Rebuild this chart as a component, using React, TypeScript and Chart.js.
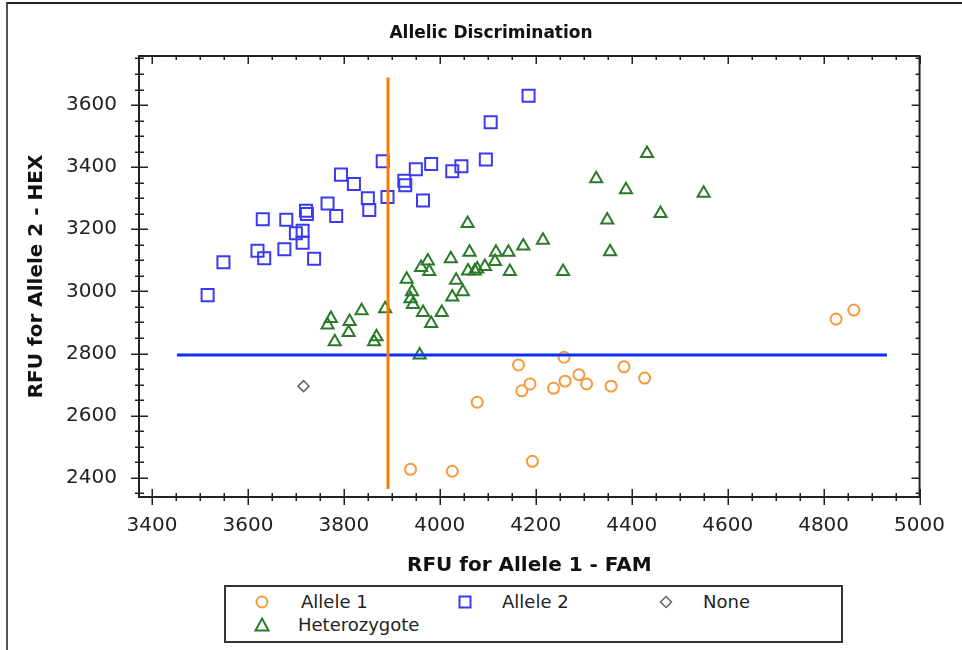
import React, { useEffect, useRef } from 'react';
import { Chart, registerables } from 'chart.js';

Chart.register(...registerables);

// ---- Data ----
const allele1Fam = [4164, 4259, 4188, 4171, 4237, 4261, 4290, 4306, 4357, 4384, 4427, 4078, 3939, 4026, 4193, 4826, 4863];
const allele1Hex = [2763, 2788, 2702, 2680, 2688, 2711, 2732, 2702, 2695, 2757, 2721, 2643, 2427, 2421, 2453, 2911, 2940];

const allele2Fam = [4185, 4106, 3881, 3794, 3821, 3850, 3853, 3891, 3926, 3928, 3950, 3982, 3965, 4026, 4045, 4096, 3766, 3784, 3721, 3723, 3631, 3680, 3700, 3714, 3714, 3620, 3634, 3676, 3738, 3549, 3516];
const allele2Hex = [3630, 3545, 3419, 3376, 3346, 3300, 3262, 3304, 3356, 3342, 3393, 3410, 3293, 3387, 3403, 3425, 3283, 3243, 3260, 3249, 3232, 3231, 3187, 3195, 3157, 3131, 3107, 3136, 3105, 3094, 2988];

const noneFam = [3716];
const noneHex = [2695];

const hetFam = [4432, 4326, 4388, 4550, 4460, 4349, 4058, 4355, 4215, 4174, 4143, 4117, 4062, 4023, 4115, 4094, 4078, 4073, 4059, 4146, 4257, 3975, 3961, 3978, 3931, 4034, 4048, 4026, 3942, 3939, 3944, 3965, 4004, 3982, 3886, 3837, 3773, 3766, 3812, 3810, 3781, 3868, 3863, 3958];
const hetHex = [3444, 3363, 3327, 3316, 3251, 3230, 3219, 3128, 3165, 3146, 3126, 3126, 3126, 3105, 3096, 3080, 3072, 3066, 3066, 3064, 3064, 3098, 3077, 3064, 3039, 3036, 2999, 2982, 2999, 2976, 2958, 2932, 2932, 2897, 2944, 2938, 2913, 2892, 2903, 2868, 2838, 2854, 2838, 2795];

// threshold lines
const famThresholdX = [3892, 3892];
const famThresholdY = [2364, 3689];
const hexThresholdX = [3452, 4932];
const hexThresholdY = [2795, 2795];

const xRange = [3373, 5000];
const yRange = [2338, 3758];
const tickStep = 50;
const labelStep = 200;

const zip = (xs: number[], ys: number[]) => xs.map((x, i) => ({ x, y: ys[i] }));

const makeTicks = (min: number, max: number) => {
  const out: { value: number }[] = [];
  for (let v = Math.ceil(min / tickStep) * tickStep; v <= max; v += tickStep) out.push({ value: v });
  return out;
};

const FONT = "'DejaVu Sans', sans-serif";

const framePlugin = {
  id: 'frameTicks',
  afterDraw(chart: any) {
    const { ctx, chartArea } = chart;
    const { left, right, top, bottom } = chartArea;
    const xs = chart.scales.x;
    const ys = chart.scales.y;
    ctx.save();
    ctx.strokeStyle = '#222';
    ctx.lineWidth = 2;
    ctx.strokeRect(left, top, right - left, bottom - top);
    ctx.lineWidth = 1.5;
    ctx.beginPath();
    xs.ticks.forEach((t: any) => {
      const p = Math.round(xs.getPixelForValue(t.value)) + 0.25;
      const major = t.value % labelStep === 0;
      const l = major ? 8 : 4;
      ctx.moveTo(p, bottom - l);
      ctx.lineTo(p, bottom + l);
      ctx.moveTo(p, top);
      ctx.lineTo(p, top + l);
    });
    ys.ticks.forEach((t: any) => {
      const p = Math.round(ys.getPixelForValue(t.value)) + 0.25;
      const major = t.value % labelStep === 0;
      const l = major ? 8 : 4;
      ctx.moveTo(left - l, p);
      ctx.lineTo(left + l + 1, p);
      ctx.moveTo(right - l, p);
      ctx.lineTo(right, p);
    });
    ctx.stroke();
    ctx.restore();
  },
};

export default function App() {
  const ref = useRef<HTMLCanvasElement | null>(null);

  useEffect(() => {
    if (!ref.current) return;
    const chart = new Chart(ref.current, {
      type: 'scatter',
      data: {
        datasets: [
          {
            label: 'FAM threshold',
            data: zip(famThresholdX, famThresholdY),
            showLine: true,
            borderColor: '#FF7A00',
            borderWidth: 3,
            pointRadius: 0,
          },
          {
            label: 'HEX threshold',
            data: zip(hexThresholdX, hexThresholdY),
            showLine: true,
            borderColor: '#0A2EF5',
            borderWidth: 3,
            pointRadius: 0,
          },
          {
            label: 'Allele 1',
            data: zip(allele1Fam, allele1Hex),
            pointStyle: 'circle',
            pointRadius: 5.5,
            borderColor: '#F79A3E',
            backgroundColor: 'rgba(0,0,0,0)',
            pointBorderWidth: 2,
          },
          {
            label: 'Allele 2',
            data: zip(allele2Fam, allele2Hex),
            pointStyle: 'rect',
            pointRadius: 8.5,
            borderColor: '#3A3AF2',
            backgroundColor: 'rgba(0,0,0,0)',
            pointBorderWidth: 2,
          },
          {
            label: 'None',
            data: zip(noneFam, noneHex),
            pointStyle: 'rectRot',
            pointRadius: 5.5,
            borderColor: '#666666',
            backgroundColor: 'rgba(0,0,0,0)',
            pointBorderWidth: 1.5,
          },
          {
            label: 'Heterozygote',
            data: zip(hetFam, hetHex),
            pointStyle: 'triangle',
            pointRadius: 7,
            borderColor: '#2A7A2A',
            backgroundColor: 'rgba(0,0,0,0)',
            pointBorderWidth: 2,
          },
        ],
      },
      options: {
        responsive: false,
        animation: false,
        devicePixelRatio: 1,
        layout: { padding: { left: 0, right: 38, top: 56, bottom: 0 } },
        plugins: {
          legend: { display: false },
          title: { display: false },
          tooltip: { enabled: false },
        },
        scales: {
          x: {
            type: 'linear',
            min: xRange[0],
            max: xRange[1],
            afterBuildTicks: (s: any) => {
              s.ticks = makeTicks(xRange[0], xRange[1]);
            },
            afterFit: (s: any) => {
              s.height = 153;
            },
            grid: { display: false, drawTicks: false },
            border: { display: false },
            ticks: {
              autoSkip: false,
              maxRotation: 0,
              padding: 17,
              color: '#222',
              font: { family: FONT, size: 20 },
              callback: (v: any) => (Number(v) % labelStep === 0 ? String(v) : ''),
            },
            title: {
              display: true,
              text: 'RFU for Allele 1 - FAM',
              color: '#111',
              font: { family: FONT, size: 20, weight: 'bold' },
              padding: { top: 0, bottom: 72 },
            },
          },
          y: {
            type: 'linear',
            min: yRange[0],
            max: yRange[1],
            afterBuildTicks: (s: any) => {
              s.ticks = makeTicks(yRange[0], yRange[1]);
            },
            afterFit: (s: any) => {
              s.width = 139;
            },
            grid: { display: false, drawTicks: false },
            border: { display: false },
            ticks: {
              autoSkip: false,
              padding: 22,
              color: '#222',
              font: { family: FONT, size: 20 },
              callback: (v: any) => (Number(v) % labelStep === 0 ? String(v) : ''),
            },
            title: {
              display: true,
              text: 'RFU for Allele 2 - HEX',
              color: '#111',
              font: { family: FONT, size: 20, weight: 'bold' },
              padding: { top: 25, bottom: 0 },
            },
          },
        },
      },
      plugins: [framePlugin],
    } as any);
    return () => chart.destroy();
  }, []);

  const legendText: React.CSSProperties = {
    position: 'absolute',
    fontFamily: FONT,
    fontSize: 18,
    lineHeight: '20px',
    color: '#222',
    whiteSpace: 'nowrap',
  };

  return (
    <div style={{ position: 'absolute', left: 0, top: 0, width: 962, height: 650, background: '#fff', overflow: 'hidden' }}>
      <div style={{ position: 'absolute', left: 6, top: 2, width: 980, height: 700, borderLeft: '2px solid #555', borderTop: '2px solid #222' }} />
      <canvas ref={ref} width={962} height={650} style={{ position: 'absolute', left: 0, top: 0 }} />
      <div
        style={{
          position: 'absolute',
          left: 0,
          width: 982,
          top: 20,
          textAlign: 'center',
          fontFamily: FONT,
          fontWeight: 'bold',
          fontSize: 17,
          lineHeight: '24px',
          color: '#111',
        }}
      >
        Allelic Discrimination
      </div>
      <div
        style={{
          position: 'absolute',
          left: 224,
          top: 585,
          width: 615,
          height: 54,
          border: '2px solid #333',
          background: '#fff',
        }}
      >
        <svg width={16} height={16} style={{ position: 'absolute', left: 28, top: 7 }}>
          <circle cx={8} cy={8} r={5.5} stroke="#F79A3E" strokeWidth={2} fill="none" />
        </svg>
        <div style={{ ...legendText, left: 75, top: 5 }}>Allele 1</div>
        <svg width={16} height={16} style={{ position: 'absolute', left: 231, top: 7 }}>
          <rect x={2.5} y={2.5} width={11} height={11} stroke="#3A3AF2" strokeWidth={2} fill="none" />
        </svg>
        <div style={{ ...legendText, left: 276, top: 5 }}>Allele 2</div>
        <svg width={16} height={16} style={{ position: 'absolute', left: 432, top: 7 }}>
          <polygon points="8,2.5 13.5,8 8,13.5 2.5,8" stroke="#666" strokeWidth={1.5} fill="none" />
        </svg>
        <div style={{ ...legendText, left: 477, top: 5 }}>None</div>
        <svg width={18} height={18} style={{ position: 'absolute', left: 27, top: 29 }}>
          <polygon points="9,2.5 15.5,14.5 2.5,14.5" stroke="#2A7A2A" strokeWidth={2} fill="none" />
        </svg>
        <div style={{ ...legendText, left: 72, top: 28 }}>Heterozygote</div>
      </div>
    </div>
  );
}
